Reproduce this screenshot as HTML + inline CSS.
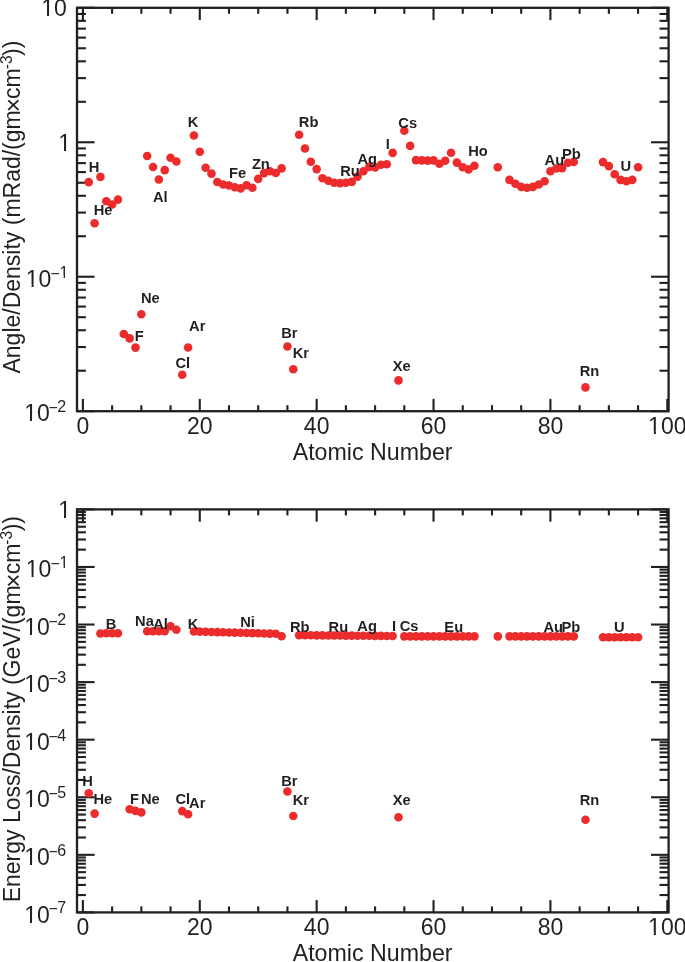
<!DOCTYPE html>
<html><head><meta charset="utf-8"><title>Angle and Energy Loss vs Atomic Number</title>
<style>
html,body{margin:0;padding:0;background:#fff;}
body{width:685px;height:962px;overflow:hidden;}
svg{display:block;will-change:transform;}
text{font-family:"Liberation Sans",sans-serif;fill:#231F20;}
.lab text{font-size:14px;font-weight:bold;}
.tl{font-size:23px;}
.sup{font-size:16px;}
.yt{font-size:23px;}
.tx{font-size:24.45px;}
.tsup{font-size:15.5px;}
.xt{font-size:23.2px;}
</style></head>
<body>
<svg width="685" height="962" viewBox="0 0 685 962">
<rect width="685" height="962" fill="#fff"/>
<defs><clipPath id="c0"><path clip-rule="evenodd" d="M-5,-5H700V975H-5ZM24.95,418.68H29.98V422.60H24.95ZM32.02,418.68H36.77V422.60H32.02Z"/></clipPath><clipPath id="c1"><path clip-rule="evenodd" d="M-5,-5H700V975H-5ZM26.55,284.22H31.58V288.13H26.55ZM33.62,284.22H38.37V288.13H33.62Z"/></clipPath><clipPath id="c2"><path clip-rule="evenodd" d="M-5,-5H700V975H-5ZM59.82,275.44H63.62V278.83H59.82ZM65.04,275.44H68.62V278.83H65.04Z"/></clipPath><clipPath id="c3"><path clip-rule="evenodd" d="M-5,-5H700V975H-5ZM58.95,148.45H63.98V152.37H58.95ZM66.02,148.45H70.77V152.37H66.02Z"/></clipPath><clipPath id="c4"><path clip-rule="evenodd" d="M-5,-5H700V975H-5ZM41.95,13.18H46.98V17.10H41.95ZM49.02,13.18H53.77V17.10H49.02Z"/></clipPath><clipPath id="c5"><path clip-rule="evenodd" d="M-5,-5H700V975H-5ZM24.95,919.88H29.98V923.80H24.95ZM32.02,919.88H36.77V923.80H32.02Z"/></clipPath><clipPath id="c6"><path clip-rule="evenodd" d="M-5,-5H700V975H-5ZM24.95,862.31H29.98V866.23H24.95ZM32.02,862.31H36.77V866.23H32.02Z"/></clipPath><clipPath id="c7"><path clip-rule="evenodd" d="M-5,-5H700V975H-5ZM24.95,804.74H29.98V808.66H24.95ZM32.02,804.74H36.77V808.66H32.02Z"/></clipPath><clipPath id="c8"><path clip-rule="evenodd" d="M-5,-5H700V975H-5ZM24.95,747.17H29.98V751.09H24.95ZM32.02,747.17H36.77V751.09H32.02Z"/></clipPath><clipPath id="c9"><path clip-rule="evenodd" d="M-5,-5H700V975H-5ZM24.95,689.60H29.98V693.51H24.95ZM32.02,689.60H36.77V693.51H32.02Z"/></clipPath><clipPath id="c10"><path clip-rule="evenodd" d="M-5,-5H700V975H-5ZM24.95,632.02H29.98V635.94H24.95ZM32.02,632.02H36.77V635.94H32.02Z"/></clipPath><clipPath id="c11"><path clip-rule="evenodd" d="M-5,-5H700V975H-5ZM26.55,574.45H31.58V578.37H26.55ZM33.62,574.45H38.37V578.37H33.62Z"/></clipPath><clipPath id="c12"><path clip-rule="evenodd" d="M-5,-5H700V975H-5ZM59.82,565.68H63.62V569.07H59.82ZM65.04,565.68H68.62V569.07H65.04Z"/></clipPath><clipPath id="c13"><path clip-rule="evenodd" d="M-5,-5H700V975H-5ZM58.95,515.58H63.98V519.50H58.95ZM66.02,515.58H70.77V519.50H66.02Z"/></clipPath><clipPath id="c14"><path clip-rule="evenodd" d="M-5,-5H700V975H-5ZM648.86,430.98H653.90V434.90H648.86ZM655.93,430.98H660.68V434.90H655.93Z"/></clipPath><clipPath id="c15"><path clip-rule="evenodd" d="M-5,-5H700V975H-5ZM648.86,932.18H653.90V936.10H648.86ZM655.93,932.18H660.68V936.10H655.93Z"/></clipPath></defs>
<g stroke="#231F20" stroke-width="2.1" fill="none">
<rect x="77.0" y="7.8" width="591.60" height="403.40" fill="none" stroke="#231F20" stroke-width="2.3"/>
<line x1="82.90" y1="411.20" x2="82.90" y2="398.90"/>
<line x1="82.90" y1="7.80" x2="82.90" y2="20.10"/>
<line x1="112.12" y1="411.20" x2="112.12" y2="405.20"/>
<line x1="112.12" y1="7.80" x2="112.12" y2="13.80"/>
<line x1="141.34" y1="411.20" x2="141.34" y2="405.20"/>
<line x1="141.34" y1="7.80" x2="141.34" y2="13.80"/>
<line x1="170.56" y1="411.20" x2="170.56" y2="405.20"/>
<line x1="170.56" y1="7.80" x2="170.56" y2="13.80"/>
<line x1="199.78" y1="411.20" x2="199.78" y2="398.90"/>
<line x1="199.78" y1="7.80" x2="199.78" y2="20.10"/>
<line x1="229.00" y1="411.20" x2="229.00" y2="405.20"/>
<line x1="229.00" y1="7.80" x2="229.00" y2="13.80"/>
<line x1="258.22" y1="411.20" x2="258.22" y2="405.20"/>
<line x1="258.22" y1="7.80" x2="258.22" y2="13.80"/>
<line x1="287.44" y1="411.20" x2="287.44" y2="405.20"/>
<line x1="287.44" y1="7.80" x2="287.44" y2="13.80"/>
<line x1="316.66" y1="411.20" x2="316.66" y2="398.90"/>
<line x1="316.66" y1="7.80" x2="316.66" y2="20.10"/>
<line x1="345.88" y1="411.20" x2="345.88" y2="405.20"/>
<line x1="345.88" y1="7.80" x2="345.88" y2="13.80"/>
<line x1="375.10" y1="411.20" x2="375.10" y2="405.20"/>
<line x1="375.10" y1="7.80" x2="375.10" y2="13.80"/>
<line x1="404.32" y1="411.20" x2="404.32" y2="405.20"/>
<line x1="404.32" y1="7.80" x2="404.32" y2="13.80"/>
<line x1="433.54" y1="411.20" x2="433.54" y2="398.90"/>
<line x1="433.54" y1="7.80" x2="433.54" y2="20.10"/>
<line x1="462.76" y1="411.20" x2="462.76" y2="405.20"/>
<line x1="462.76" y1="7.80" x2="462.76" y2="13.80"/>
<line x1="491.98" y1="411.20" x2="491.98" y2="405.20"/>
<line x1="491.98" y1="7.80" x2="491.98" y2="13.80"/>
<line x1="521.20" y1="411.20" x2="521.20" y2="405.20"/>
<line x1="521.20" y1="7.80" x2="521.20" y2="13.80"/>
<line x1="550.42" y1="411.20" x2="550.42" y2="398.90"/>
<line x1="550.42" y1="7.80" x2="550.42" y2="20.10"/>
<line x1="579.64" y1="411.20" x2="579.64" y2="405.20"/>
<line x1="579.64" y1="7.80" x2="579.64" y2="13.80"/>
<line x1="608.86" y1="411.20" x2="608.86" y2="405.20"/>
<line x1="608.86" y1="7.80" x2="608.86" y2="13.80"/>
<line x1="638.08" y1="411.20" x2="638.08" y2="405.20"/>
<line x1="638.08" y1="7.80" x2="638.08" y2="13.80"/>
<line x1="667.30" y1="411.20" x2="667.30" y2="398.90"/>
<line x1="667.30" y1="7.80" x2="667.30" y2="20.10"/>
<line x1="77.0" y1="411.20" x2="94.6" y2="411.20"/>
<line x1="668.6" y1="411.20" x2="651.0" y2="411.20"/>
<line x1="77.0" y1="370.72" x2="85.9" y2="370.72"/>
<line x1="668.6" y1="370.72" x2="659.5" y2="370.72"/>
<line x1="77.0" y1="347.04" x2="85.9" y2="347.04"/>
<line x1="668.6" y1="347.04" x2="659.5" y2="347.04"/>
<line x1="77.0" y1="330.24" x2="85.9" y2="330.24"/>
<line x1="668.6" y1="330.24" x2="659.5" y2="330.24"/>
<line x1="77.0" y1="317.21" x2="85.9" y2="317.21"/>
<line x1="668.6" y1="317.21" x2="659.5" y2="317.21"/>
<line x1="77.0" y1="306.56" x2="85.9" y2="306.56"/>
<line x1="668.6" y1="306.56" x2="659.5" y2="306.56"/>
<line x1="77.0" y1="297.56" x2="85.9" y2="297.56"/>
<line x1="668.6" y1="297.56" x2="659.5" y2="297.56"/>
<line x1="77.0" y1="289.76" x2="85.9" y2="289.76"/>
<line x1="668.6" y1="289.76" x2="659.5" y2="289.76"/>
<line x1="77.0" y1="282.89" x2="85.9" y2="282.89"/>
<line x1="668.6" y1="282.89" x2="659.5" y2="282.89"/>
<line x1="77.0" y1="276.73" x2="94.6" y2="276.73"/>
<line x1="668.6" y1="276.73" x2="651.0" y2="276.73"/>
<line x1="77.0" y1="236.25" x2="85.9" y2="236.25"/>
<line x1="668.6" y1="236.25" x2="659.5" y2="236.25"/>
<line x1="77.0" y1="212.58" x2="85.9" y2="212.58"/>
<line x1="668.6" y1="212.58" x2="659.5" y2="212.58"/>
<line x1="77.0" y1="195.78" x2="85.9" y2="195.78"/>
<line x1="668.6" y1="195.78" x2="659.5" y2="195.78"/>
<line x1="77.0" y1="182.75" x2="85.9" y2="182.75"/>
<line x1="668.6" y1="182.75" x2="659.5" y2="182.75"/>
<line x1="77.0" y1="172.10" x2="85.9" y2="172.10"/>
<line x1="668.6" y1="172.10" x2="659.5" y2="172.10"/>
<line x1="77.0" y1="163.10" x2="85.9" y2="163.10"/>
<line x1="668.6" y1="163.10" x2="659.5" y2="163.10"/>
<line x1="77.0" y1="155.30" x2="85.9" y2="155.30"/>
<line x1="668.6" y1="155.30" x2="659.5" y2="155.30"/>
<line x1="77.0" y1="148.42" x2="85.9" y2="148.42"/>
<line x1="668.6" y1="148.42" x2="659.5" y2="148.42"/>
<line x1="77.0" y1="142.27" x2="94.6" y2="142.27"/>
<line x1="668.6" y1="142.27" x2="651.0" y2="142.27"/>
<line x1="77.0" y1="101.79" x2="85.9" y2="101.79"/>
<line x1="668.6" y1="101.79" x2="659.5" y2="101.79"/>
<line x1="77.0" y1="78.11" x2="85.9" y2="78.11"/>
<line x1="668.6" y1="78.11" x2="659.5" y2="78.11"/>
<line x1="77.0" y1="61.31" x2="85.9" y2="61.31"/>
<line x1="668.6" y1="61.31" x2="659.5" y2="61.31"/>
<line x1="77.0" y1="48.28" x2="85.9" y2="48.28"/>
<line x1="668.6" y1="48.28" x2="659.5" y2="48.28"/>
<line x1="77.0" y1="37.63" x2="85.9" y2="37.63"/>
<line x1="668.6" y1="37.63" x2="659.5" y2="37.63"/>
<line x1="77.0" y1="28.63" x2="85.9" y2="28.63"/>
<line x1="668.6" y1="28.63" x2="659.5" y2="28.63"/>
<line x1="77.0" y1="20.83" x2="85.9" y2="20.83"/>
<line x1="668.6" y1="20.83" x2="659.5" y2="20.83"/>
<line x1="77.0" y1="13.95" x2="85.9" y2="13.95"/>
<line x1="668.6" y1="13.95" x2="659.5" y2="13.95"/>
<line x1="77.0" y1="7.80" x2="94.6" y2="7.80"/>
<line x1="668.6" y1="7.80" x2="651.0" y2="7.80"/>
<rect x="77.0" y="509.4" width="591.60" height="403.00" fill="none" stroke="#231F20" stroke-width="2.3"/>
<line x1="82.90" y1="912.40" x2="82.90" y2="900.10"/>
<line x1="82.90" y1="509.40" x2="82.90" y2="521.70"/>
<line x1="112.12" y1="912.40" x2="112.12" y2="906.40"/>
<line x1="112.12" y1="509.40" x2="112.12" y2="515.40"/>
<line x1="141.34" y1="912.40" x2="141.34" y2="906.40"/>
<line x1="141.34" y1="509.40" x2="141.34" y2="515.40"/>
<line x1="170.56" y1="912.40" x2="170.56" y2="906.40"/>
<line x1="170.56" y1="509.40" x2="170.56" y2="515.40"/>
<line x1="199.78" y1="912.40" x2="199.78" y2="900.10"/>
<line x1="199.78" y1="509.40" x2="199.78" y2="521.70"/>
<line x1="229.00" y1="912.40" x2="229.00" y2="906.40"/>
<line x1="229.00" y1="509.40" x2="229.00" y2="515.40"/>
<line x1="258.22" y1="912.40" x2="258.22" y2="906.40"/>
<line x1="258.22" y1="509.40" x2="258.22" y2="515.40"/>
<line x1="287.44" y1="912.40" x2="287.44" y2="906.40"/>
<line x1="287.44" y1="509.40" x2="287.44" y2="515.40"/>
<line x1="316.66" y1="912.40" x2="316.66" y2="900.10"/>
<line x1="316.66" y1="509.40" x2="316.66" y2="521.70"/>
<line x1="345.88" y1="912.40" x2="345.88" y2="906.40"/>
<line x1="345.88" y1="509.40" x2="345.88" y2="515.40"/>
<line x1="375.10" y1="912.40" x2="375.10" y2="906.40"/>
<line x1="375.10" y1="509.40" x2="375.10" y2="515.40"/>
<line x1="404.32" y1="912.40" x2="404.32" y2="906.40"/>
<line x1="404.32" y1="509.40" x2="404.32" y2="515.40"/>
<line x1="433.54" y1="912.40" x2="433.54" y2="900.10"/>
<line x1="433.54" y1="509.40" x2="433.54" y2="521.70"/>
<line x1="462.76" y1="912.40" x2="462.76" y2="906.40"/>
<line x1="462.76" y1="509.40" x2="462.76" y2="515.40"/>
<line x1="491.98" y1="912.40" x2="491.98" y2="906.40"/>
<line x1="491.98" y1="509.40" x2="491.98" y2="515.40"/>
<line x1="521.20" y1="912.40" x2="521.20" y2="906.40"/>
<line x1="521.20" y1="509.40" x2="521.20" y2="515.40"/>
<line x1="550.42" y1="912.40" x2="550.42" y2="900.10"/>
<line x1="550.42" y1="509.40" x2="550.42" y2="521.70"/>
<line x1="579.64" y1="912.40" x2="579.64" y2="906.40"/>
<line x1="579.64" y1="509.40" x2="579.64" y2="515.40"/>
<line x1="608.86" y1="912.40" x2="608.86" y2="906.40"/>
<line x1="608.86" y1="509.40" x2="608.86" y2="515.40"/>
<line x1="638.08" y1="912.40" x2="638.08" y2="906.40"/>
<line x1="638.08" y1="509.40" x2="638.08" y2="515.40"/>
<line x1="667.30" y1="912.40" x2="667.30" y2="900.10"/>
<line x1="667.30" y1="509.40" x2="667.30" y2="521.70"/>
<line x1="77.0" y1="912.40" x2="94.6" y2="912.40"/>
<line x1="668.6" y1="912.40" x2="651.0" y2="912.40"/>
<line x1="77.0" y1="895.07" x2="85.9" y2="895.07"/>
<line x1="668.6" y1="895.07" x2="659.5" y2="895.07"/>
<line x1="77.0" y1="884.93" x2="85.9" y2="884.93"/>
<line x1="668.6" y1="884.93" x2="659.5" y2="884.93"/>
<line x1="77.0" y1="877.74" x2="85.9" y2="877.74"/>
<line x1="668.6" y1="877.74" x2="659.5" y2="877.74"/>
<line x1="77.0" y1="872.16" x2="85.9" y2="872.16"/>
<line x1="668.6" y1="872.16" x2="659.5" y2="872.16"/>
<line x1="77.0" y1="867.60" x2="85.9" y2="867.60"/>
<line x1="668.6" y1="867.60" x2="659.5" y2="867.60"/>
<line x1="77.0" y1="863.75" x2="85.9" y2="863.75"/>
<line x1="668.6" y1="863.75" x2="659.5" y2="863.75"/>
<line x1="77.0" y1="860.41" x2="85.9" y2="860.41"/>
<line x1="668.6" y1="860.41" x2="659.5" y2="860.41"/>
<line x1="77.0" y1="857.46" x2="85.9" y2="857.46"/>
<line x1="668.6" y1="857.46" x2="659.5" y2="857.46"/>
<line x1="77.0" y1="854.83" x2="94.6" y2="854.83"/>
<line x1="668.6" y1="854.83" x2="651.0" y2="854.83"/>
<line x1="77.0" y1="837.50" x2="85.9" y2="837.50"/>
<line x1="668.6" y1="837.50" x2="659.5" y2="837.50"/>
<line x1="77.0" y1="827.36" x2="85.9" y2="827.36"/>
<line x1="668.6" y1="827.36" x2="659.5" y2="827.36"/>
<line x1="77.0" y1="820.17" x2="85.9" y2="820.17"/>
<line x1="668.6" y1="820.17" x2="659.5" y2="820.17"/>
<line x1="77.0" y1="814.59" x2="85.9" y2="814.59"/>
<line x1="668.6" y1="814.59" x2="659.5" y2="814.59"/>
<line x1="77.0" y1="810.03" x2="85.9" y2="810.03"/>
<line x1="668.6" y1="810.03" x2="659.5" y2="810.03"/>
<line x1="77.0" y1="806.18" x2="85.9" y2="806.18"/>
<line x1="668.6" y1="806.18" x2="659.5" y2="806.18"/>
<line x1="77.0" y1="802.84" x2="85.9" y2="802.84"/>
<line x1="668.6" y1="802.84" x2="659.5" y2="802.84"/>
<line x1="77.0" y1="799.89" x2="85.9" y2="799.89"/>
<line x1="668.6" y1="799.89" x2="659.5" y2="799.89"/>
<line x1="77.0" y1="797.26" x2="94.6" y2="797.26"/>
<line x1="668.6" y1="797.26" x2="651.0" y2="797.26"/>
<line x1="77.0" y1="779.93" x2="85.9" y2="779.93"/>
<line x1="668.6" y1="779.93" x2="659.5" y2="779.93"/>
<line x1="77.0" y1="769.79" x2="85.9" y2="769.79"/>
<line x1="668.6" y1="769.79" x2="659.5" y2="769.79"/>
<line x1="77.0" y1="762.60" x2="85.9" y2="762.60"/>
<line x1="668.6" y1="762.60" x2="659.5" y2="762.60"/>
<line x1="77.0" y1="757.02" x2="85.9" y2="757.02"/>
<line x1="668.6" y1="757.02" x2="659.5" y2="757.02"/>
<line x1="77.0" y1="752.46" x2="85.9" y2="752.46"/>
<line x1="668.6" y1="752.46" x2="659.5" y2="752.46"/>
<line x1="77.0" y1="748.60" x2="85.9" y2="748.60"/>
<line x1="668.6" y1="748.60" x2="659.5" y2="748.60"/>
<line x1="77.0" y1="745.26" x2="85.9" y2="745.26"/>
<line x1="668.6" y1="745.26" x2="659.5" y2="745.26"/>
<line x1="77.0" y1="742.32" x2="85.9" y2="742.32"/>
<line x1="668.6" y1="742.32" x2="659.5" y2="742.32"/>
<line x1="77.0" y1="739.69" x2="94.6" y2="739.69"/>
<line x1="668.6" y1="739.69" x2="651.0" y2="739.69"/>
<line x1="77.0" y1="722.35" x2="85.9" y2="722.35"/>
<line x1="668.6" y1="722.35" x2="659.5" y2="722.35"/>
<line x1="77.0" y1="712.22" x2="85.9" y2="712.22"/>
<line x1="668.6" y1="712.22" x2="659.5" y2="712.22"/>
<line x1="77.0" y1="705.02" x2="85.9" y2="705.02"/>
<line x1="668.6" y1="705.02" x2="659.5" y2="705.02"/>
<line x1="77.0" y1="699.45" x2="85.9" y2="699.45"/>
<line x1="668.6" y1="699.45" x2="659.5" y2="699.45"/>
<line x1="77.0" y1="694.89" x2="85.9" y2="694.89"/>
<line x1="668.6" y1="694.89" x2="659.5" y2="694.89"/>
<line x1="77.0" y1="691.03" x2="85.9" y2="691.03"/>
<line x1="668.6" y1="691.03" x2="659.5" y2="691.03"/>
<line x1="77.0" y1="687.69" x2="85.9" y2="687.69"/>
<line x1="668.6" y1="687.69" x2="659.5" y2="687.69"/>
<line x1="77.0" y1="684.75" x2="85.9" y2="684.75"/>
<line x1="668.6" y1="684.75" x2="659.5" y2="684.75"/>
<line x1="77.0" y1="682.11" x2="94.6" y2="682.11"/>
<line x1="668.6" y1="682.11" x2="651.0" y2="682.11"/>
<line x1="77.0" y1="664.78" x2="85.9" y2="664.78"/>
<line x1="668.6" y1="664.78" x2="659.5" y2="664.78"/>
<line x1="77.0" y1="654.65" x2="85.9" y2="654.65"/>
<line x1="668.6" y1="654.65" x2="659.5" y2="654.65"/>
<line x1="77.0" y1="647.45" x2="85.9" y2="647.45"/>
<line x1="668.6" y1="647.45" x2="659.5" y2="647.45"/>
<line x1="77.0" y1="641.87" x2="85.9" y2="641.87"/>
<line x1="668.6" y1="641.87" x2="659.5" y2="641.87"/>
<line x1="77.0" y1="637.32" x2="85.9" y2="637.32"/>
<line x1="668.6" y1="637.32" x2="659.5" y2="637.32"/>
<line x1="77.0" y1="633.46" x2="85.9" y2="633.46"/>
<line x1="668.6" y1="633.46" x2="659.5" y2="633.46"/>
<line x1="77.0" y1="630.12" x2="85.9" y2="630.12"/>
<line x1="668.6" y1="630.12" x2="659.5" y2="630.12"/>
<line x1="77.0" y1="627.18" x2="85.9" y2="627.18"/>
<line x1="668.6" y1="627.18" x2="659.5" y2="627.18"/>
<line x1="77.0" y1="624.54" x2="94.6" y2="624.54"/>
<line x1="668.6" y1="624.54" x2="651.0" y2="624.54"/>
<line x1="77.0" y1="607.21" x2="85.9" y2="607.21"/>
<line x1="668.6" y1="607.21" x2="659.5" y2="607.21"/>
<line x1="77.0" y1="597.07" x2="85.9" y2="597.07"/>
<line x1="668.6" y1="597.07" x2="659.5" y2="597.07"/>
<line x1="77.0" y1="589.88" x2="85.9" y2="589.88"/>
<line x1="668.6" y1="589.88" x2="659.5" y2="589.88"/>
<line x1="77.0" y1="584.30" x2="85.9" y2="584.30"/>
<line x1="668.6" y1="584.30" x2="659.5" y2="584.30"/>
<line x1="77.0" y1="579.74" x2="85.9" y2="579.74"/>
<line x1="668.6" y1="579.74" x2="659.5" y2="579.74"/>
<line x1="77.0" y1="575.89" x2="85.9" y2="575.89"/>
<line x1="668.6" y1="575.89" x2="659.5" y2="575.89"/>
<line x1="77.0" y1="572.55" x2="85.9" y2="572.55"/>
<line x1="668.6" y1="572.55" x2="659.5" y2="572.55"/>
<line x1="77.0" y1="569.61" x2="85.9" y2="569.61"/>
<line x1="668.6" y1="569.61" x2="659.5" y2="569.61"/>
<line x1="77.0" y1="566.97" x2="94.6" y2="566.97"/>
<line x1="668.6" y1="566.97" x2="651.0" y2="566.97"/>
<line x1="77.0" y1="549.64" x2="85.9" y2="549.64"/>
<line x1="668.6" y1="549.64" x2="659.5" y2="549.64"/>
<line x1="77.0" y1="539.50" x2="85.9" y2="539.50"/>
<line x1="668.6" y1="539.50" x2="659.5" y2="539.50"/>
<line x1="77.0" y1="532.31" x2="85.9" y2="532.31"/>
<line x1="668.6" y1="532.31" x2="659.5" y2="532.31"/>
<line x1="77.0" y1="526.73" x2="85.9" y2="526.73"/>
<line x1="668.6" y1="526.73" x2="659.5" y2="526.73"/>
<line x1="77.0" y1="522.17" x2="85.9" y2="522.17"/>
<line x1="668.6" y1="522.17" x2="659.5" y2="522.17"/>
<line x1="77.0" y1="518.32" x2="85.9" y2="518.32"/>
<line x1="668.6" y1="518.32" x2="659.5" y2="518.32"/>
<line x1="77.0" y1="514.98" x2="85.9" y2="514.98"/>
<line x1="668.6" y1="514.98" x2="659.5" y2="514.98"/>
<line x1="77.0" y1="512.03" x2="85.9" y2="512.03"/>
<line x1="668.6" y1="512.03" x2="659.5" y2="512.03"/>
<line x1="77.0" y1="509.40" x2="94.6" y2="509.40"/>
<line x1="668.6" y1="509.40" x2="651.0" y2="509.40"/>
</g>
<g fill="#EC2B2D">
<circle cx="88.74" cy="182.10" r="4.3"/>
<circle cx="94.59" cy="223.20" r="4.3"/>
<circle cx="100.43" cy="176.90" r="4.3"/>
<circle cx="106.28" cy="201.30" r="4.3"/>
<circle cx="112.12" cy="204.50" r="4.3"/>
<circle cx="117.96" cy="199.60" r="4.3"/>
<circle cx="123.81" cy="334.00" r="4.3"/>
<circle cx="129.65" cy="338.40" r="4.3"/>
<circle cx="135.50" cy="347.60" r="4.3"/>
<circle cx="141.34" cy="314.30" r="4.3"/>
<circle cx="147.18" cy="156.00" r="4.3"/>
<circle cx="153.03" cy="167.00" r="4.3"/>
<circle cx="158.87" cy="179.50" r="4.3"/>
<circle cx="164.72" cy="170.10" r="4.3"/>
<circle cx="170.56" cy="157.80" r="4.3"/>
<circle cx="176.40" cy="161.50" r="4.3"/>
<circle cx="182.25" cy="374.80" r="4.3"/>
<circle cx="188.09" cy="347.50" r="4.3"/>
<circle cx="193.94" cy="135.50" r="4.3"/>
<circle cx="199.78" cy="151.80" r="4.3"/>
<circle cx="205.62" cy="167.70" r="4.3"/>
<circle cx="211.47" cy="173.60" r="4.3"/>
<circle cx="217.31" cy="182.00" r="4.3"/>
<circle cx="223.16" cy="184.50" r="4.3"/>
<circle cx="229.00" cy="185.50" r="4.3"/>
<circle cx="234.84" cy="187.20" r="4.3"/>
<circle cx="240.69" cy="188.40" r="4.3"/>
<circle cx="246.53" cy="185.30" r="4.3"/>
<circle cx="252.38" cy="187.80" r="4.3"/>
<circle cx="258.22" cy="178.90" r="4.3"/>
<circle cx="264.06" cy="173.10" r="4.3"/>
<circle cx="269.91" cy="171.30" r="4.3"/>
<circle cx="275.75" cy="173.00" r="4.3"/>
<circle cx="281.60" cy="168.40" r="4.3"/>
<circle cx="287.44" cy="346.50" r="4.3"/>
<circle cx="293.28" cy="369.30" r="4.3"/>
<circle cx="299.13" cy="134.80" r="4.3"/>
<circle cx="304.97" cy="148.50" r="4.3"/>
<circle cx="310.82" cy="161.70" r="4.3"/>
<circle cx="316.66" cy="169.10" r="4.3"/>
<circle cx="322.50" cy="178.20" r="4.3"/>
<circle cx="328.35" cy="180.70" r="4.3"/>
<circle cx="334.19" cy="182.70" r="4.3"/>
<circle cx="340.04" cy="183.10" r="4.3"/>
<circle cx="345.88" cy="182.70" r="4.3"/>
<circle cx="351.72" cy="181.90" r="4.3"/>
<circle cx="357.57" cy="176.60" r="4.3"/>
<circle cx="363.41" cy="171.30" r="4.3"/>
<circle cx="369.26" cy="166.90" r="4.3"/>
<circle cx="375.10" cy="167.40" r="4.3"/>
<circle cx="380.94" cy="164.70" r="4.3"/>
<circle cx="386.79" cy="164.30" r="4.3"/>
<circle cx="392.63" cy="152.90" r="4.3"/>
<circle cx="398.48" cy="380.40" r="4.3"/>
<circle cx="404.32" cy="130.70" r="4.3"/>
<circle cx="410.16" cy="145.90" r="4.3"/>
<circle cx="416.01" cy="160.10" r="4.3"/>
<circle cx="421.85" cy="160.40" r="4.3"/>
<circle cx="427.70" cy="160.60" r="4.3"/>
<circle cx="433.54" cy="160.40" r="4.3"/>
<circle cx="439.38" cy="163.80" r="4.3"/>
<circle cx="445.23" cy="160.70" r="4.3"/>
<circle cx="451.07" cy="152.80" r="4.3"/>
<circle cx="456.92" cy="162.60" r="4.3"/>
<circle cx="462.76" cy="167.20" r="4.3"/>
<circle cx="468.60" cy="169.40" r="4.3"/>
<circle cx="474.45" cy="165.70" r="4.3"/>
<circle cx="497.82" cy="167.30" r="4.3"/>
<circle cx="509.51" cy="179.90" r="4.3"/>
<circle cx="515.36" cy="183.80" r="4.3"/>
<circle cx="521.20" cy="186.90" r="4.3"/>
<circle cx="527.04" cy="187.70" r="4.3"/>
<circle cx="532.89" cy="186.90" r="4.3"/>
<circle cx="538.73" cy="184.50" r="4.3"/>
<circle cx="544.58" cy="181.20" r="4.3"/>
<circle cx="550.42" cy="171.20" r="4.3"/>
<circle cx="556.26" cy="168.50" r="4.3"/>
<circle cx="562.11" cy="168.10" r="4.3"/>
<circle cx="567.95" cy="162.80" r="4.3"/>
<circle cx="573.80" cy="162.00" r="4.3"/>
<circle cx="585.48" cy="387.40" r="4.3"/>
<circle cx="603.02" cy="162.10" r="4.3"/>
<circle cx="608.86" cy="166.10" r="4.3"/>
<circle cx="614.70" cy="174.20" r="4.3"/>
<circle cx="620.55" cy="179.90" r="4.3"/>
<circle cx="626.39" cy="181.20" r="4.3"/>
<circle cx="632.24" cy="179.90" r="4.3"/>
<circle cx="638.08" cy="167.30" r="4.3"/>
<circle cx="88.74" cy="793.30" r="4.3"/>
<circle cx="94.59" cy="813.60" r="4.3"/>
<circle cx="100.43" cy="633.50" r="4.3"/>
<circle cx="106.28" cy="633.20" r="4.3"/>
<circle cx="112.12" cy="633.30" r="4.3"/>
<circle cx="117.96" cy="633.30" r="4.3"/>
<circle cx="129.65" cy="809.30" r="4.3"/>
<circle cx="135.50" cy="810.90" r="4.3"/>
<circle cx="141.34" cy="812.40" r="4.3"/>
<circle cx="147.18" cy="631.20" r="4.3"/>
<circle cx="153.03" cy="631.20" r="4.3"/>
<circle cx="158.87" cy="631.30" r="4.3"/>
<circle cx="164.72" cy="631.30" r="4.3"/>
<circle cx="170.56" cy="626.20" r="4.3"/>
<circle cx="176.40" cy="629.70" r="4.3"/>
<circle cx="182.25" cy="811.10" r="4.3"/>
<circle cx="188.09" cy="814.30" r="4.3"/>
<circle cx="287.44" cy="791.50" r="4.3"/>
<circle cx="293.28" cy="816.00" r="4.3"/>
<circle cx="398.48" cy="817.20" r="4.3"/>
<circle cx="585.48" cy="819.70" r="4.3"/>
<circle cx="193.94" cy="631.50" r="4.3"/>
<circle cx="199.78" cy="631.66" r="4.3"/>
<circle cx="205.62" cy="631.83" r="4.3"/>
<circle cx="211.47" cy="631.99" r="4.3"/>
<circle cx="217.31" cy="632.16" r="4.3"/>
<circle cx="223.16" cy="632.32" r="4.3"/>
<circle cx="229.00" cy="632.49" r="4.3"/>
<circle cx="234.84" cy="632.65" r="4.3"/>
<circle cx="240.69" cy="632.81" r="4.3"/>
<circle cx="246.53" cy="632.98" r="4.3"/>
<circle cx="252.38" cy="633.14" r="4.3"/>
<circle cx="258.22" cy="633.31" r="4.3"/>
<circle cx="264.06" cy="633.47" r="4.3"/>
<circle cx="269.91" cy="633.64" r="4.3"/>
<circle cx="275.75" cy="633.80" r="4.3"/>
<circle cx="281.60" cy="636.20" r="4.3"/>
<circle cx="299.13" cy="635.20" r="4.3"/>
<circle cx="304.97" cy="635.25" r="4.3"/>
<circle cx="310.82" cy="635.30" r="4.3"/>
<circle cx="316.66" cy="635.35" r="4.3"/>
<circle cx="322.50" cy="635.40" r="4.3"/>
<circle cx="328.35" cy="635.45" r="4.3"/>
<circle cx="334.19" cy="635.50" r="4.3"/>
<circle cx="340.04" cy="635.55" r="4.3"/>
<circle cx="345.88" cy="635.60" r="4.3"/>
<circle cx="351.72" cy="635.65" r="4.3"/>
<circle cx="357.57" cy="635.70" r="4.3"/>
<circle cx="363.41" cy="635.75" r="4.3"/>
<circle cx="369.26" cy="635.80" r="4.3"/>
<circle cx="375.10" cy="635.85" r="4.3"/>
<circle cx="380.94" cy="635.90" r="4.3"/>
<circle cx="386.79" cy="635.95" r="4.3"/>
<circle cx="392.63" cy="636.00" r="4.3"/>
<circle cx="404.32" cy="636.40" r="4.3"/>
<circle cx="410.16" cy="636.40" r="4.3"/>
<circle cx="416.01" cy="636.40" r="4.3"/>
<circle cx="421.85" cy="636.40" r="4.3"/>
<circle cx="427.70" cy="636.40" r="4.3"/>
<circle cx="433.54" cy="636.40" r="4.3"/>
<circle cx="439.38" cy="636.40" r="4.3"/>
<circle cx="445.23" cy="636.40" r="4.3"/>
<circle cx="451.07" cy="636.40" r="4.3"/>
<circle cx="456.92" cy="636.40" r="4.3"/>
<circle cx="462.76" cy="636.40" r="4.3"/>
<circle cx="468.60" cy="636.40" r="4.3"/>
<circle cx="474.45" cy="636.40" r="4.3"/>
<circle cx="497.82" cy="636.40" r="4.3"/>
<circle cx="509.51" cy="636.40" r="4.3"/>
<circle cx="515.36" cy="636.40" r="4.3"/>
<circle cx="521.20" cy="636.40" r="4.3"/>
<circle cx="527.04" cy="636.40" r="4.3"/>
<circle cx="532.89" cy="636.40" r="4.3"/>
<circle cx="538.73" cy="636.40" r="4.3"/>
<circle cx="544.58" cy="636.40" r="4.3"/>
<circle cx="550.42" cy="636.40" r="4.3"/>
<circle cx="556.26" cy="636.40" r="4.3"/>
<circle cx="562.11" cy="636.40" r="4.3"/>
<circle cx="567.95" cy="636.40" r="4.3"/>
<circle cx="573.80" cy="636.40" r="4.3"/>
<circle cx="603.02" cy="637.30" r="4.3"/>
<circle cx="608.86" cy="637.30" r="4.3"/>
<circle cx="614.70" cy="637.30" r="4.3"/>
<circle cx="620.55" cy="637.30" r="4.3"/>
<circle cx="626.39" cy="637.30" r="4.3"/>
<circle cx="632.24" cy="637.30" r="4.3"/>
<circle cx="638.08" cy="637.30" r="4.3"/>
</g>
<g class="lab">
<text transform="translate(88.65,171.50) scale(1.05,1.04)">H</text>
<text transform="translate(93.65,214.90) scale(1.05,1.04)">He</text>
<text transform="translate(152.90,202.00) scale(1.05,1.04)">Al</text>
<text transform="translate(187.75,127.20) scale(1.05,1.04)">K</text>
<text transform="translate(228.95,178.30) scale(1.05,1.04)">Fe</text>
<text transform="translate(251.88,168.90) scale(1.05,1.04)">Zn</text>
<text transform="translate(298.85,127.10) scale(1.05,1.04)">Rb</text>
<text transform="translate(340.25,175.90) scale(1.05,1.04)">Ru</text>
<text transform="translate(357.40,164.00) scale(1.05,1.04)">Ag</text>
<text transform="translate(385.75,148.50) scale(1.05,1.04)">I</text>
<text transform="translate(398.27,128.40) scale(1.05,1.04)">Cs</text>
<text transform="translate(468.25,156.30) scale(1.05,1.04)">Ho</text>
<text transform="translate(544.60,164.60) scale(1.05,1.04)">Au</text>
<text transform="translate(561.95,159.30) scale(1.05,1.04)">Pb</text>
<text transform="translate(620.45,171.10) scale(1.05,1.04)">U</text>
<text transform="translate(140.95,303.00) scale(1.05,1.04)">Ne</text>
<text transform="translate(134.75,341.10) scale(1.05,1.04)">F</text>
<text transform="translate(189.10,331.00) scale(1.05,1.04)">Ar</text>
<text transform="translate(175.47,367.80) scale(1.05,1.04)">Cl</text>
<text transform="translate(281.25,337.60) scale(1.05,1.04)">Br</text>
<text transform="translate(292.75,358.40) scale(1.05,1.04)">Kr</text>
<text transform="translate(392.69,371.00) scale(1.05,1.04)">Xe</text>
<text transform="translate(579.75,375.70) scale(1.05,1.04)">Rn</text>
<text transform="translate(105.85,629.30) scale(1.05,1.04)">B</text>
<text transform="translate(135.05,626.10) scale(1.05,1.04)">Na</text>
<text transform="translate(153.20,628.70) scale(1.05,1.04)">Al</text>
<text transform="translate(187.75,628.60) scale(1.05,1.04)">K</text>
<text transform="translate(240.15,627.20) scale(1.05,1.04)">Ni</text>
<text transform="translate(289.95,631.50) scale(1.05,1.04)">Rb</text>
<text transform="translate(328.55,632.00) scale(1.05,1.04)">Ru</text>
<text transform="translate(357.30,630.80) scale(1.05,1.04)">Ag</text>
<text transform="translate(392.05,630.80) scale(1.05,1.04)">I</text>
<text transform="translate(399.67,631.00) scale(1.05,1.04)">Cs</text>
<text transform="translate(444.35,631.60) scale(1.05,1.04)">Eu</text>
<text transform="translate(543.50,631.50) scale(1.05,1.04)">Au</text>
<text transform="translate(561.55,631.50) scale(1.05,1.04)">Pb</text>
<text transform="translate(613.95,632.00) scale(1.05,1.04)">U</text>
<text transform="translate(82.25,785.60) scale(1.05,1.04)">H</text>
<text transform="translate(93.45,804.40) scale(1.05,1.04)">He</text>
<text transform="translate(130.05,803.90) scale(1.05,1.04)">F</text>
<text transform="translate(140.95,803.90) scale(1.05,1.04)">Ne</text>
<text transform="translate(175.47,803.80) scale(1.05,1.04)">Cl</text>
<text transform="translate(189.10,807.60) scale(1.05,1.04)">Ar</text>
<text transform="translate(281.25,785.60) scale(1.05,1.04)">Br</text>
<text transform="translate(292.75,804.90) scale(1.05,1.04)">Kr</text>
<text transform="translate(392.69,804.70) scale(1.05,1.04)">Xe</text>
<text transform="translate(579.75,804.60) scale(1.05,1.04)">Rn</text>
</g>
<g class="tlg">
<text class="tl" x="24.20" y="421.40" clip-path="url(#c0)">10</text>
<text class="sup" x="48.5" y="413.20">−</text>
<text class="sup" x="57.30" y="412.10">2</text>
<text class="tl" x="25.80" y="286.93" clip-path="url(#c1)">10</text>
<text class="sup" x="50.5" y="278.73">−</text>
<text class="sup" x="59.60" y="277.63" clip-path="url(#c2)">1</text>
<text class="tl" x="58.20" y="151.17" clip-path="url(#c3)">1</text>
<text class="tl" x="41.20" y="15.90" clip-path="url(#c4)">10</text>
<text class="tl" x="24.20" y="922.60" clip-path="url(#c5)">10</text>
<text class="sup" x="48.5" y="914.40">−</text>
<text class="sup" x="57.30" y="913.30">7</text>
<text class="tl" x="24.20" y="865.03" clip-path="url(#c6)">10</text>
<text class="sup" x="48.5" y="856.83">−</text>
<text class="sup" x="57.30" y="855.73">6</text>
<text class="tl" x="24.20" y="807.46" clip-path="url(#c7)">10</text>
<text class="sup" x="48.5" y="799.26">−</text>
<text class="sup" x="57.30" y="798.16">5</text>
<text class="tl" x="24.20" y="749.89" clip-path="url(#c8)">10</text>
<text class="sup" x="48.5" y="741.69">−</text>
<text class="sup" x="57.30" y="740.59">4</text>
<text class="tl" x="24.20" y="692.31" clip-path="url(#c9)">10</text>
<text class="sup" x="48.5" y="684.11">−</text>
<text class="sup" x="57.30" y="683.01">3</text>
<text class="tl" x="24.20" y="634.74" clip-path="url(#c10)">10</text>
<text class="sup" x="48.5" y="626.54">−</text>
<text class="sup" x="57.30" y="625.44">2</text>
<text class="tl" x="25.80" y="577.17" clip-path="url(#c11)">10</text>
<text class="sup" x="50.5" y="568.97">−</text>
<text class="sup" x="59.60" y="567.87" clip-path="url(#c12)">1</text>
<text class="tl" x="58.20" y="518.30" clip-path="url(#c13)">1</text>
<text class="tl" x="76.50" y="433.70">0</text>
<text class="tl" x="186.99" y="433.70">20</text>
<text class="tl" x="303.87" y="433.70">40</text>
<text class="tl" x="420.75" y="433.70">60</text>
<text class="tl" x="537.63" y="433.70">80</text>
<text class="tl" x="648.11" y="433.70" clip-path="url(#c14)">100</text>
<text class="tl" x="76.50" y="934.90">0</text>
<text class="tl" x="186.99" y="934.90">20</text>
<text class="tl" x="303.87" y="934.90">40</text>
<text class="tl" x="420.75" y="934.90">60</text>
<text class="tl" x="537.63" y="934.90">80</text>
<text class="tl" x="648.11" y="934.90" clip-path="url(#c15)">100</text>
</g>
<text class="yt" transform="translate(19.8,373.50) rotate(-90) scale(1,1.04)">Angle/Density (mRad/(gm<tspan x="261.20" dy="2.15" class="tx">×</tspan><tspan x="274.60" dy="-2.15">cm</tspan><tspan class="tsup" dx="-1" dy="-7.45">-3</tspan><tspan dx="-0.4" dy="7.45">))</tspan></text>
<text class="yt" transform="translate(19.8,902.30) rotate(-90) scale(1,1.04)">Energy Loss/Density (GeV/(gm<tspan x="314.60" dy="2.15" class="tx">×</tspan><tspan x="328.00" dy="-2.15">cm</tspan><tspan class="tsup" dx="-1" dy="-7.45">-3</tspan><tspan dx="-0.4" dy="7.45">))</tspan></text>
<text class="xt" transform="translate(372.6,459.7) scale(1,1.03)" text-anchor="middle">Atomic Number</text>
<text class="xt" transform="translate(372.6,961.3) scale(1,1.03)" text-anchor="middle">Atomic Number</text>
</svg>
</body></html>
